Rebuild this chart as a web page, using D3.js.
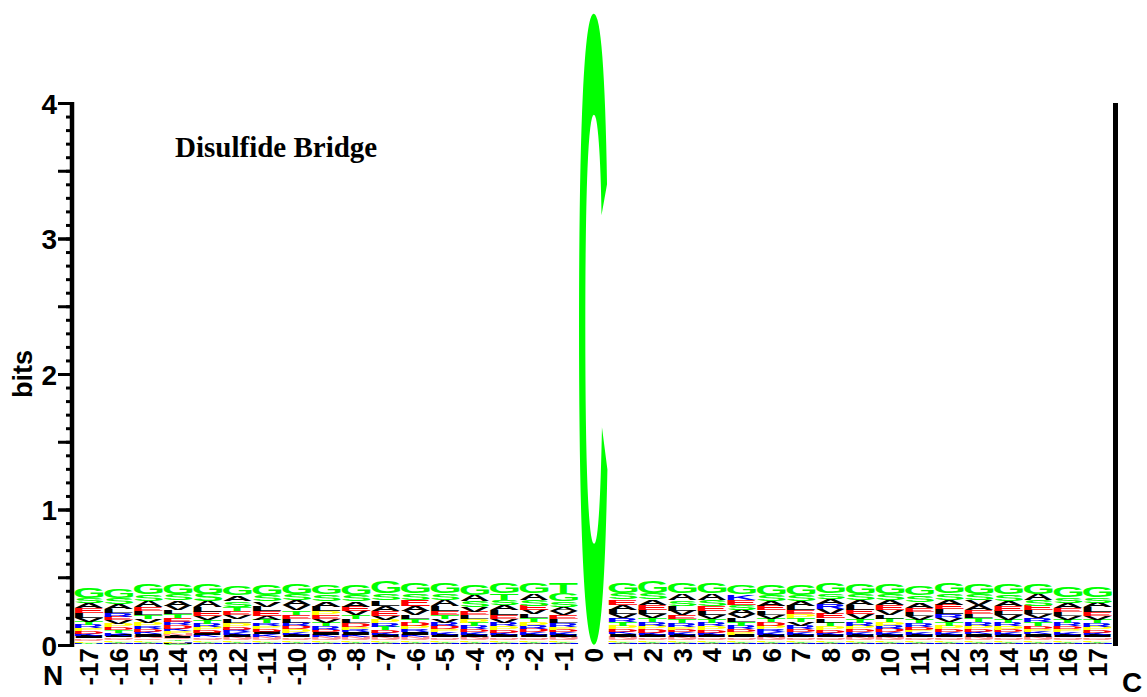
<!DOCTYPE html>
<html>
<head>
<meta charset="utf-8">
<script src="https://cdn.jsdelivr.net/npm/d3@7"></script>
<style>
  body { margin: 0; background: #fff; }
  svg { display: block; }
</style>
</head>
<body>
<svg id="logo" width="1147" height="697"></svg>
<script>
// Sequence positions relative to the bonded cysteine
const positions = [-17,-16,-15,-14,-13,-12,-11,-10,-9,-8,-7,-6,-5,-4,-3,-2,-1,0,1,2,3,4,5,6,7,8,9,10,11,12,13,14,15,16,17];

// Residue order for each row of the information matrix
const residues = ["G","S","T","A","V","L","I","P","E","D","R","K","Q","N","F","Y","H","M","C","W"];

// Information content per residue per position, in millibits
//              G   S   T   A   V   L   I   P   E   D   R   K   Q   N   F   Y   H   M   C   W
const milliBits = [
  [72, 40, 25, 38, 30, 34, 16, 22, 35, 20, 24, 16, 10, 12,  9,  8,  4,  3,  2,  1], // -17
  [66, 46, 22, 36, 25, 30, 14, 24, 26, 22, 28, 18, 11, 13, 10,  8,  5,  4,  3,  2], // -16
  [78, 50, 28, 44, 26, 28, 18, 25, 30, 20, 22, 19, 12, 14, 11,  9,  7,  4,  3,  2], // -15
  [76, 44, 30, 40, 32, 30, 15, 20, 28, 24, 26, 20, 12, 15, 10, 10,  6,  5,  4,  3], // -14
  [80, 55, 26, 46, 28, 34, 17, 24, 32, 18, 24, 16, 11, 13, 10,  9,  6,  4,  3,  2], // -13
  [70, 42, 32, 42, 30, 28, 16, 26, 30, 22, 20, 18, 12, 14,  9,  8,  6,  5,  3,  2], // -12
  [81, 45, 24, 30, 40, 36, 18, 22, 34, 20, 22, 17, 12, 14, 11,  9,  6,  4,  3,  2], // -11
  [74, 46, 31, 38, 36, 30, 16, 24, 30, 24, 26, 18, 11, 13, 10,  9,  5,  4,  3,  2], // -10
  [71, 48, 26, 40, 28, 34, 17, 30, 28, 20, 24, 16, 12, 15, 10,  9,  6,  4,  3,  2], // -9
  [72, 45, 30, 42, 32, 28, 18, 22, 32, 26, 20, 17, 12, 14, 10,  8,  6,  4,  3,  2], // -8
  [84, 52, 24, 38, 30, 40, 16, 26, 36, 20, 24, 18, 11, 14, 10,  8,  6,  4,  3,  1], // -7
  [78, 46, 28, 36, 32, 30, 18, 24, 44, 24, 22, 16, 12, 14, 10,  9,  6,  4,  3,  2], // -6
  [78, 50, 30, 44, 28, 32, 16, 22, 30, 25, 26, 18, 12, 13, 10,  9,  6,  4,  3,  2], // -5
  [72, 44, 26, 46, 34, 28, 17, 26, 28, 20, 24, 18, 12, 14, 10,  9,  6,  4,  3,  2], // -4
  [74, 40, 50, 36, 30, 34, 16, 24, 30, 22, 26, 20, 11, 13, 10,  8,  6,  4,  3,  1], // -3
  [76, 44, 28, 48, 32, 30, 18, 26, 32, 24, 25, 18, 12, 13, 10,  8,  5,  4,  3,  2], // -2
  [60, 42, 74, 32, 31, 30, 16, 22, 30, 20, 24, 18, 12, 14, 10,  8,  6,  4,  3,  2], // -1
  [ 0,  0,  0,  0,  0,  0,  0,  0,  0,  0,  0,  0,  0,  0,  0,  0,  0,  0, 4670, 0], // 0
  [80, 48, 26, 36, 30, 34, 18, 24, 40, 22, 28, 18, 12, 14, 10,  9,  6,  4,  3,  3], // 1
  [86, 50, 28, 42, 30, 32, 16, 26, 36, 24, 26, 20, 12, 13, 10,  8,  5,  4,  3,  1], // 2
  [78, 40, 30, 50, 34, 36, 18, 22, 30, 20, 24, 18, 11, 14, 10,  8,  6,  4,  3,  2], // 3
  [76, 46, 28, 48, 30, 32, 16, 24, 34, 22, 26, 17, 12, 13, 10,  9,  6,  4,  3,  2], // 4
  [70, 36, 26, 34, 30, 28, 17, 22, 36, 22, 24, 40, 12, 13, 10,  8,  6,  4,  3,  2], // 5
  [72, 44, 28, 40, 30, 30, 18, 24, 32, 26, 22, 18, 12, 14, 10,  9,  6,  4,  3,  1], // 6
  [72, 46, 29, 36, 28, 32, 16, 30, 30, 22, 24, 20, 12, 13, 10,  8,  6,  4,  3,  2], // 7
  [76, 42, 28, 40, 36, 30, 17, 24, 32, 22, 36, 18, 12, 13, 10,  8,  6,  4,  3,  1], // 8
  [76, 44, 28, 38, 32, 34, 16, 24, 32, 22, 26, 18, 12, 14, 10,  9,  6,  4,  3,  2], // 9
  [76, 46, 26, 36, 34, 30, 18, 25, 34, 24, 24, 18, 11, 14, 10,  9,  6,  4,  3,  2], // 10
  [70, 51, 26, 38, 30, 30, 16, 22, 30, 22, 24, 18, 12, 13, 10,  8,  6,  4,  3,  2], // 11
  [78, 46, 28, 40, 30, 32, 16, 26, 32, 22, 30, 20, 12, 13, 10,  8,  6,  4,  3,  2], // 12
  [76, 44, 30, 36, 36, 30, 18, 24, 30, 22, 26, 18, 12, 14, 10,  9,  6,  4,  3,  2], // 13
  [76, 47, 26, 40, 32, 34, 16, 24, 34, 20, 24, 18, 12, 13, 10,  9,  6,  4,  3,  2], // 14
  [72, 44, 28, 44, 30, 30, 18, 22, 34, 22, 28, 18, 11, 14, 10,  9,  6,  4,  3,  3], // 15
  [76, 40, 26, 36, 28, 30, 16, 22, 30, 22, 24, 20, 12, 13, 10,  8,  6,  4,  3,  2], // 16
  [74, 42, 26, 34, 30, 32, 16, 24, 30, 20, 24, 18, 12, 13, 10,  8,  6,  4,  3,  2]  // 17
];

const yTickValues = [0, 1, 2, 3, 4];

// Residue colouring by chemical property
const residueColor = {
  G: "#00ff00", S: "#00ff00", T: "#00ff00", Y: "#00ff00", C: "#00ff00",
  A: "#000000", V: "#000000", L: "#000000", I: "#000000", M: "#000000",
  P: "#ffff00", F: "#ffff00", W: "#ffff00",
  E: "#ff0000", D: "#ff0000",
  K: "#0000ff", R: "#0000ff", H: "#0000ff",
  Q: "#ff8c8c", N: "#ff8c8c"
};

const svg = d3.select("#logo");

const x = d3.scaleBand().domain(positions).range([74.2, 1112.4]).padding(0);
const y = d3.scaleLinear().domain([0, 4]).range([645, 103]);

// Tight glyph bounds so each letter fills its box exactly
const GLYPH_FONT = "bold 100px 'Liberation Sans', Arial, Helvetica, sans-serif";
const ctx = document.createElement("canvas").getContext("2d");
ctx.font = GLYPH_FONT;
const glyphBox = {};
residues.forEach(r => {
  const m = ctx.measureText(r);
  glyphBox[r] = {
    left: m.actualBoundingBoxLeft,
    right: m.actualBoundingBoxRight,
    ascent: m.actualBoundingBoxAscent,
    descent: m.actualBoundingBoxDescent
  };
});

// Build stacks: smallest contribution at the bottom, largest on top
const stacks = positions.map((p, i) => {
  const items = residues
    .map((r, j) => ({ residue: r, bits: milliBits[i][j] / 1000 }))
    .filter(d => d.bits > 0)
    .sort((a, b) => a.bits - b.bits);
  let acc = 0;
  items.forEach(d => { d.y0 = acc; acc += d.bits; d.y1 = acc; });
  return { position: p, items };
});

const inset = 0.5;
const letters = svg.append("g").attr("class", "letters");
stacks.forEach(col => {
  const x0 = x(col.position) + inset;
  const w = x.bandwidth() - 2 * inset;
  col.items.forEach(d => {
    const top = y(d.y1);
    const h = y(d.y0) - y(d.y1);
    if (h < 0.05) return;
    const g = glyphBox[d.residue];
    const sx = w / (g.left + g.right);
    const sy = h / (g.ascent + g.descent);
    letters.append("text")
      .attr("transform", `translate(${x0},${top}) scale(${sx},${sy}) translate(${g.left},${g.ascent})`)
      .attr("font-family", "'Liberation Sans', Arial, Helvetica, sans-serif")
      .attr("font-weight", "bold")
      .attr("font-size", 100)
      .attr("fill", residueColor[d.residue])
      .text(d.residue);
  });
});

// Left axis: minor ticks every 0.1, long ticks every 0.5, labels on integers
const axisX = 72;
const minorTicks = d3.range(0, 41).map(k => k / 10);
const halfTicks = d3.range(0, 9).map(k => k / 2);

const axisG = svg.append("g").attr("transform", `translate(${axisX},0)`);
axisG.call(d3.axisLeft(y).tickValues(minorTicks).tickSize(6).tickFormat(""))
  .call(g => g.select(".domain").remove())
  .call(g => g.selectAll(".tick line").attr("stroke", "#000").attr("stroke-width", 3));
axisG.append("g")
  .call(d3.axisLeft(y).tickValues(halfTicks).tickSize(14).tickFormat(""))
  .call(g => g.select(".domain").remove())
  .call(g => g.selectAll(".tick line").attr("stroke", "#000").attr("stroke-width", 3));
axisG.append("g")
  .call(d3.axisLeft(y).tickValues(yTickValues).tickSize(14).tickPadding(1).tickFormat(d3.format("d")))
  .call(g => g.select(".domain").remove())
  .call(g => g.selectAll(".tick line").attr("stroke", "#000").attr("stroke-width", 3))
  .call(g => g.selectAll(".tick text")
    .attr("font-family", "'Liberation Sans', Arial, sans-serif")
    .attr("font-weight", "bold")
    .attr("font-size", 28)
    .attr("fill", "#000")
    .attr("dy", "0.36em"));
axisG.append("line")
  .attr("x1", 0).attr("x2", 0)
  .attr("y1", y(4) - 1).attr("y2", y(0) + 2)
  .attr("stroke", "#000").attr("stroke-width", 4.5);

// Right frame line
svg.append("line")
  .attr("x1", 1115.5).attr("x2", 1115.5)
  .attr("y1", y(4)).attr("y2", y(0) + 1)
  .attr("stroke", "#000").attr("stroke-width", 5);

// Position labels, rotated
svg.append("g").selectAll("text")
  .data(positions)
  .join("text")
  .attr("transform", p => `translate(${x(p) + x.bandwidth() / 2},648) rotate(-90)`)
  .attr("text-anchor", "end")
  .attr("dy", "0.36em")
  .attr("font-family", "'Liberation Sans', Arial, sans-serif")
  .attr("font-weight", "bold")
  .attr("font-size", 26)
  .attr("fill", "#000")
  .text(p => String(p));

// Axis title
svg.append("text")
  .attr("transform", "translate(22,374) rotate(-90)")
  .attr("text-anchor", "middle")
  .attr("dy", "0.36em")
  .attr("font-family", "'Liberation Sans', Arial, sans-serif")
  .attr("font-weight", "bold")
  .attr("font-size", 27)
  .attr("fill", "#000")
  .text("bits");

// Terminus markers
svg.append("text")
  .attr("x", 53).attr("y", 685)
  .attr("text-anchor", "middle")
  .attr("font-family", "'Liberation Sans', Arial, sans-serif")
  .attr("font-weight", "bold")
  .attr("font-size", 28)
  .text("N");
svg.append("text")
  .attr("x", 1132).attr("y", 692)
  .attr("text-anchor", "middle")
  .attr("font-family", "'Liberation Sans', Arial, sans-serif")
  .attr("font-weight", "bold")
  .attr("font-size", 28)
  .text("C");

// Chart title
svg.append("text")
  .attr("x", 175).attr("y", 157)
  .attr("font-family", "'Liberation Serif', 'Times New Roman', serif")
  .attr("font-weight", "bold")
  .attr("font-size", 29)
  .attr("fill", "#000")
  .text("Disulfide Bridge");
</script>
</body>
</html>
